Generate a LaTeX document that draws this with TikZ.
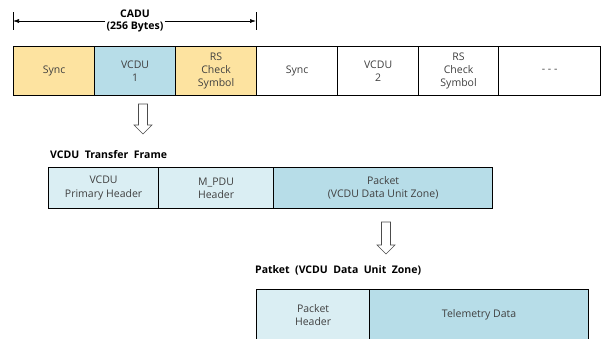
\documentclass[tikz,border=0pt]{standalone}
\usepackage{fontspec}
\setmainfont{Open Sans}
\usetikzlibrary{arrows.meta}
\definecolor{syncor}{HTML}{FDE3A0}
\definecolor{vblue}{HTML}{B7DDE8}
\definecolor{lblue}{HTML}{DAEEF3}
\tikzset{
  cell/.style={draw=black, line width=1.2pt, anchor=north west, inner sep=0pt, align=center, font=\fontsize{10.5}{13.3}\selectfont, text=black!75},
  title/.style={anchor=west, font=\bfseries\fontsize{10.5}{12.5}\selectfont, inner sep=0pt},
  hollow/.style={draw=black!70, line width=0.6pt, fill=white}
}
\newcommand{\cellbox}[7]{% name, x1, y1, x2, y2, fill, text
  \node[cell, fill=#6, minimum width=#4pt-#2pt, minimum height=#5pt-#3pt] (#1) at (#2,#3) {#7};}
\newcommand{\hollowarrow}[3]{% x, ytop, ybottom
  \draw[hollow] (#1-4.5,#2) -- (#1+4.5,#2) -- (#1+4.5,#3-9) -- (#1+9,#3-9) -- (#1,#3) -- (#1-9,#3-9) -- (#1-4.5,#3-9) -- cycle;}
\begin{document}
\begin{tikzpicture}[x=1pt, y=-1pt]
\useasboundingbox (0,0) rectangle (602,338);
% CADU dimension
\coordinate (dl) at (13,21);
\coordinate (dr) at (256,21);
\draw[line width=0.6pt] (13,12) -- (13,30);
\draw[line width=0.6pt] (256,12) -- (256,30);
\node[font=\bfseries\fontsize{10.5}{12.5}\selectfont, align=center, fill=white, inner sep=1pt] (cadu) at (135,21) {CADU\\(256 Bytes)};
\draw[line width=0.6pt, -{Latex[length=6pt,width=4pt]}] (cadu.west) -- (dl);
\draw[line width=0.6pt, -{Latex[length=6pt,width=4pt]}] (cadu.east) -- (dr);
% top row
\cellbox{s1}{13}{46}{94}{95}{syncor}{Sync}
\cellbox{v1}{94}{46}{175}{95}{vblue}{VCDU\\1}
\cellbox{r1}{175}{46}{256}{95}{syncor}{RS\\Check\\Symbol}
\cellbox{s2}{256}{46}{337}{95}{white}{Sync}
\cellbox{v2}{337}{46}{418}{95}{white}{VCDU\\2}
\cellbox{r2}{418}{46}{498}{95}{white}{RS\\Check\\Symbol}
\cellbox{dd}{498}{46}{600}{95}{white}{- - -}
% arrow 1
\hollowarrow{143}{104}{134}
% VCDU transfer frame
\node[title] (t2) at (50,155) {VCDU\ \ Transfer\ \ Frame};
\cellbox{ph}{48}{167}{158}{208}{lblue}{VCDU\\Primary Header}
\cellbox{mp}{158}{167}{273}{208}{lblue}{M\_PDU\\Header}
\cellbox{pk}{273}{167}{492}{208}{vblue}{Packet\\(VCDU Data Unit Zone)}
% arrow 2
\hollowarrow{386}{222}{254}
% Packet
\node[title] (t3) at (255,270) {Patket\ \ (VCDU\ \ Data\ \ Unit\ \ Zone)};
\cellbox{phd}{256}{289}{369}{339.5}{lblue}{Packet\\Header}
\cellbox{tm}{369}{289}{588}{339.5}{vblue}{Telemetry Data}
\end{tikzpicture}
\end{document}
